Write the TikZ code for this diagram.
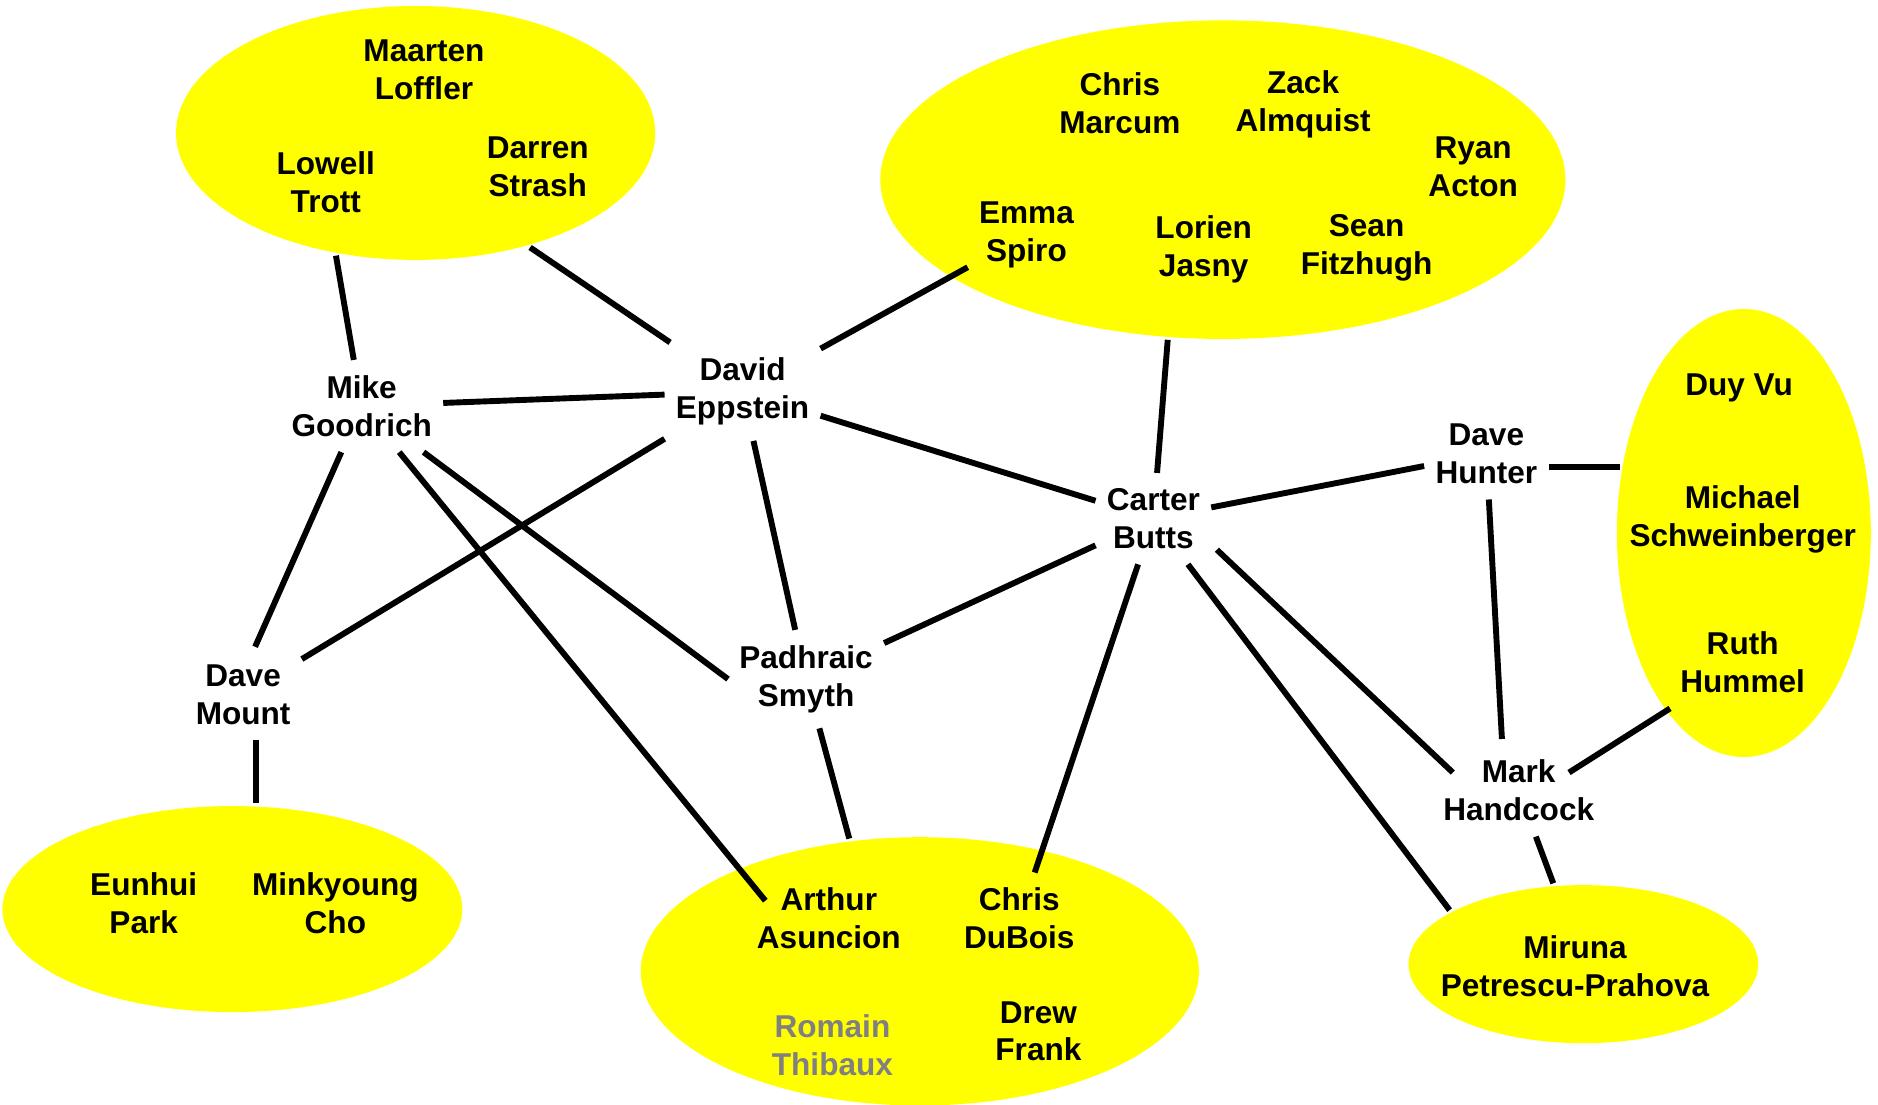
\documentclass[tikz,border=0pt]{standalone}
\usepackage{fontspec}
\setmainfont{Liberation Sans}
\usetikzlibrary{shapes.geometric}
\definecolor{grpyellow}{RGB}{255,255,0}

\begin{document}
\begin{tikzpicture}[x=0.2mm, y=-0.2mm, line width=2.8pt,
    grp/.style={ellipse, fill=grpyellow, inner sep=0pt},
    who/.style={font=\fontsize{15}{18}\selectfont\bfseries, align=center, inner xsep=4pt, inner ysep=6pt}]
  \useasboundingbox (0,0) rectangle (1568,922);
  \node[grp, minimum width=8cm, minimum height=4.24cm] (gLoffler) at (347,111) {};
  \node[grp, minimum width=11.44cm, minimum height=5.32cm] (gMarcum) at (1021,150) {};
  \node[grp, minimum width=4.24cm, minimum height=7.48cm] (gVu) at (1456,445) {};
  \node[grp, minimum width=7.68cm, minimum height=3.44cm] (gPark) at (194,759) {};
  \node[grp, minimum width=9.32cm, minimum height=4.48cm] (gAsuncion) at (768,811) {};
  \node[grp, minimum width=5.84cm, minimum height=2.64cm] (gMiruna) at (1322,805) {};
  \node[who] (maarten) at (354,58) {Maarten\\Loffler};
  \node[who] (lowell) at (272,152) {Lowell\\Trott};
  \node[who] (darren) at (449,139) {Darren\\Strash};
  \node[who] (marcum) at (935,86) {Chris\\Marcum};
  \node[who] (zack) at (1088,87) {Zack\\Almquist};
  \node[who] (ryan) at (1230,139) {Ryan\\Acton};
  \node[who] (emma) at (857,196) {Emma\\Spiro};
  \node[who] (lorien) at (1005,208) {Lorien\\Jasny};
  \node[who] (sean) at (1141,207) {Sean\\Fitzhugh};
  \node[who] (duy) at (1452,324) {Duy Vu};
  \node[who] (michael) at (1455,434) {Michael\\Schweinberger};
  \node[who] (ruth) at (1455,553) {Ruth\\Hummel};
  \node[who] (eunhui) at (120,754) {Eunhui\\Park};
  \node[who] (minkyoung) at (280,754) {Minkyoung\\Cho};
  \node[who] (arthur) at (692,767) {Arthur\\Asuncion};
  \node[who] (dubois) at (851,767) {Chris\\DuBois};
  \node[who, text=gray] (romain) at (695,873) {Romain\\Thibaux};
  \node[who] (drew) at (867,861) {Drew\\Frank};
  \node[who] (miruna) at (1315,807) {Miruna\\Petrescu-Prahova};
  \node[who] (mike) at (302,339) {Mike\\Goodrich};
  \node[who] (david) at (620,327) {David\\Eppstein};
  \node[who] (carter) at (963,433) {Carter\\Butts};
  \node[who] (hunter) at (1241,379) {Dave\\Hunter};
  \node[who] (padhraic) at (673,567) {Padhraic\\Smyth};
  \node[who] (mount) at (203,580) {Dave\\Mount};
  \node[who] (mark) at (1268,660) {Mark\\Handcock};
  \foreach \a/\b in {mike/david, emma/david, david/carter, david/mount, david/padhraic,
      carter/hunter, carter/padhraic, carter/dubois, mark/gMiruna}
    \draw (\a) -- (\b);
  \draw (gLoffler.-123) -- (mike);
  \draw (gLoffler.-45) -- (david);
  \draw (gMarcum.-109) -- (carter);
  \draw (gVu.152) -- (gVu.152 -| hunter.east);
  \draw (gMiruna.158) -- (carter);
  \draw (gAsuncion.118) -- (padhraic);
  \draw (mike) -- (padhraic.west);
  \draw (mike) -- ([shift={(10,-40)}]mount.center);
  \draw (mike) -- ([shift={(-53,-15)}]arthur.center);
  \draw ([shift={(53,26)}]carter.center) -- ([shift={(-55,-15)}]mark.center);
  \draw (hunter) -- ([shift={(-14,-43)}]mark.center);
  \draw (ruth) -- ([shift={(42,-15)}]mark.center);
  \draw ([xshift=2.2mm]mount.south) -- ([xshift=2.2mm]mount.south |- gPark.north);
\end{tikzpicture}
\end{document}
